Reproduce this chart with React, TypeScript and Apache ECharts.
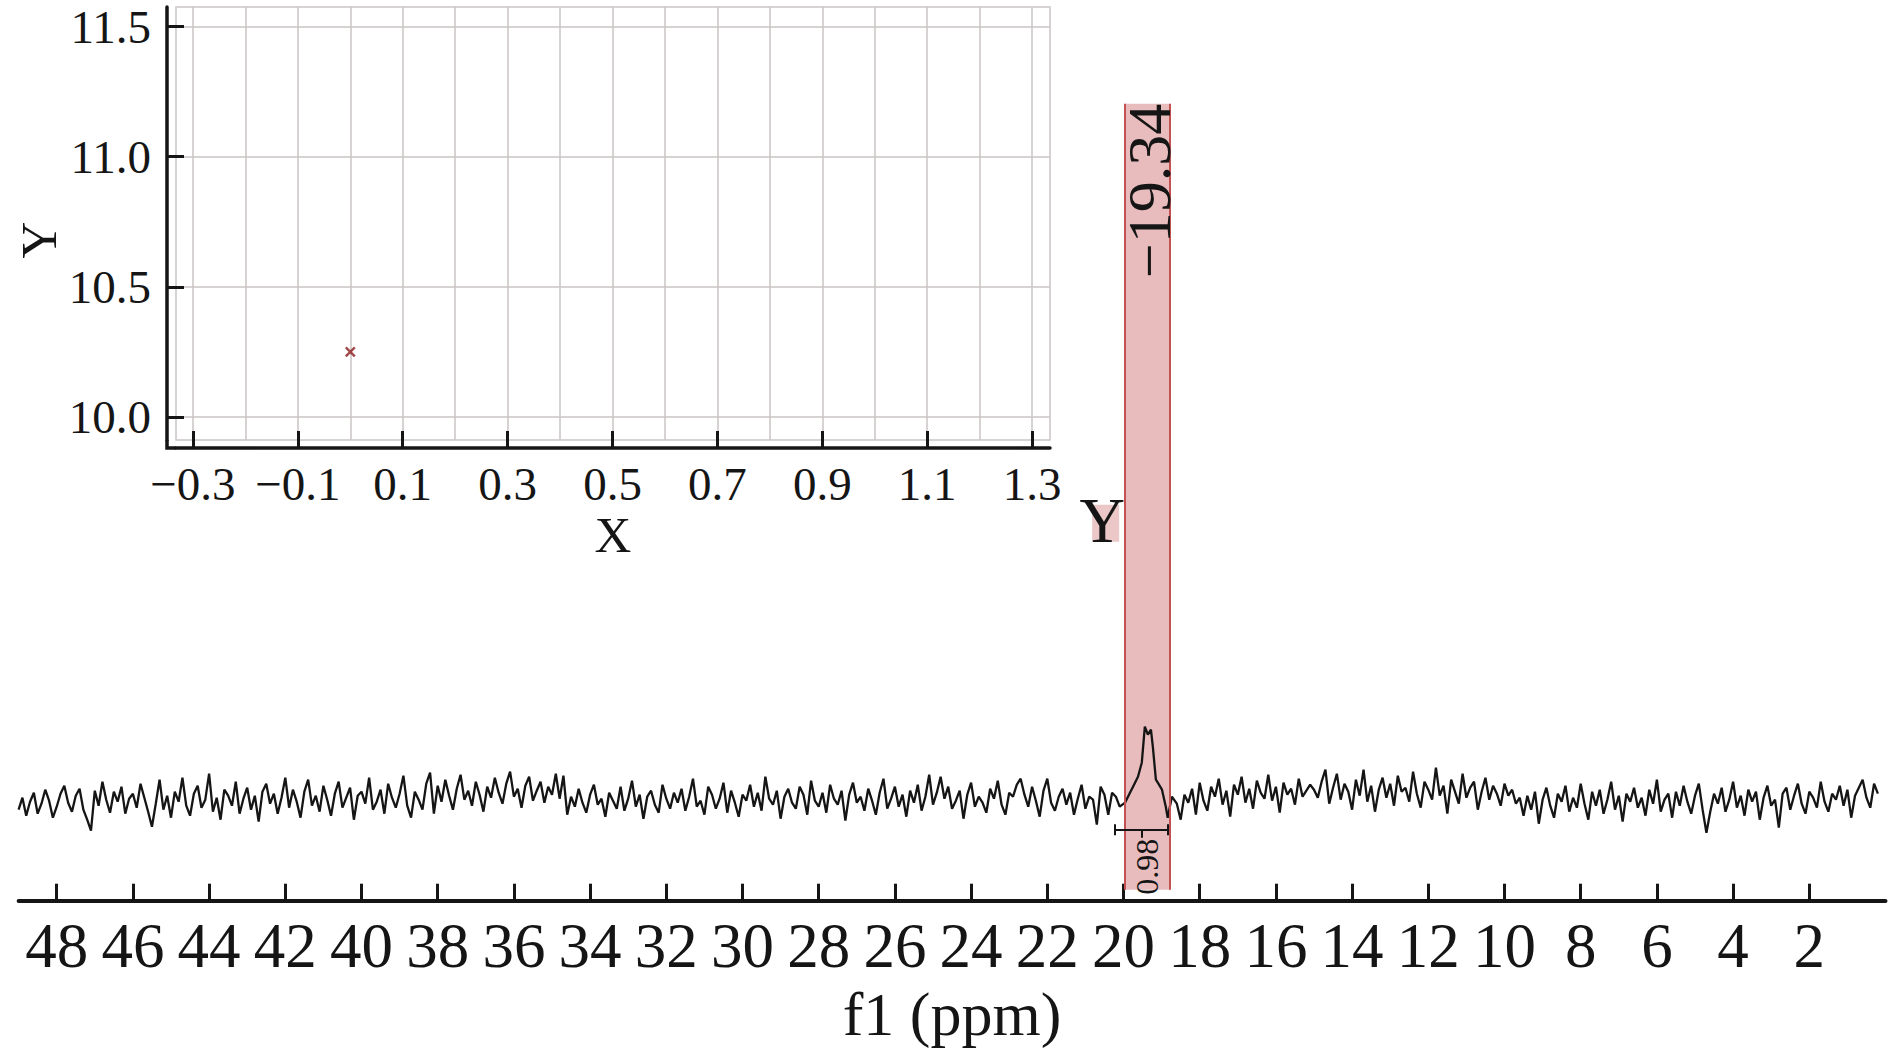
import React, { useEffect, useRef } from "react";
import * as echarts from "echarts";

const FONT = "'Liberation Serif', 'Times New Roman', Times, serif";
const INK = "#151515";
const GRIDGRAY = "#cbc5c5";

// ---------------- spectrum (intensity) ----------------
const specStep = 0.1;
const segAStart = 49.0;
const segA = [-9, 3, -15, -1, 8, -13, -3, 11, 0, -17, -6, 7, 15, -2, -11, 5, 12, -9, -19, -30, 10, -5, 19, 1, -12, 9, -1, 14, -13, 2];
const segBStart = 46.0;
const segB = [
  7, -7, 17, 3, -11, -26, -3, 21, -9, 5,
  -17, 9, -1, 23, -5, -15, 7, 15, -7, 1,
  27, -11, 3, -19, 11, 5, -5, 19, -13, 2,
  13, -9, 5, -21, 9, 17, -3, 7, -13, 3,
  23, -7, 11, -1, -17, 9, 21, -5, 5, -11,
  15, 1, -15, 7, 19, -7, 3, 13, -19, 5,
  9, -3, 23, -9, -1, 11, -13, 17, 3, -7,
  7, 25, -5, -17, 9, 1, -9, 17, 28, -13,
];
const segCStart = 38.0;
const segC = [15, -1, 21, 5, -9, 12, 26, 1, 10, -5, 19, 6, -11, 14, 3, 23, 8, -3, 17, 29, 4, 12, -7, 15, 24, 0, 10, 19, -2, 14, 6, 27, 2, 25];
const segDStart = 34.6;
const segD = [
  -14, 4, -6, 12, -2, -12, 6, 16, -4, 2,
  -16, 8, 0, -8, 14, -10, 2, 20, -6, 6,
  -18, 4, 10, -4, -12, 16, 2, -8, 8, -2,
  12, -10, 4, 22, -6, 0, -14, 14, 6, -8,
  2, 18, -12, 10, -2, -16, 6, 0, 16, -6,
  8, -10, 24, 2, -4, 10, -18, 4, 12, -2,
  -8, 14, 6, -14, 20, 0, -6, 8, -12, 16,
  2, -4, 10, -20, 6, 18, -2, 4, -10, 12,
  0, -14, 8, 22, -8, 2, 14, -6, 6, -16,
  10, -2, 16, -10, 4, 26, -4, 8, 24, 2,
  14, -8, 0, 10, -18, 6, 18, -6, 4, -2,
  -12, 12, 2, 20, -4, -14, 8, 4, 16, 22,
  6, -6, 14, 0, -16, 10, 22, -2, -10, 4,
  12, -4, 8, -14, 2, 16, -8, 4, 1, -24,
  14, 6, -14, 8, 4, -6,
];
const peakPpm = [19.96, 19.83, 19.75, 19.62, 19.52, 19.44, 19.36, 19.28, 19.23, 19.15, 19.1, 18.99, 18.89, 18.84, 18.73];
const peakVal = [-2, 8, 14, 24, 38, 74, 66, 71, 54, 21, 18, 11, -6, -17, 4];
const segFStart = 18.6;
const segF = [-3, -19, 6, -2, 12, -14, 18, 0, -10, 14, 4, 22, -4, 10, -16, 16, 6, 24, -2, 12, -8, 20, 8, 2, 26, 0, 14, -12, 18, 6, 12, -4, 22, 4, 10, 16];
const segGStart = 15.0;
const segG = [
  11, 3, 19, 31, -3, 13, 27, 1, 17, 9,
  -9, 21, 5, 31, -1, 15, -11, 11, 23, 3,
  17, -5, 25, 9, 13, -1, 29, 7, -7, 19,
  11, 1, 33, 5, 15, -13, 21, 9, -3, 27,
  3, 13, 19, -9, 9, 23, 1, 15, 7, -5,
  17, 5, 11, -3, 3,
];
const segHStart = 9.5;
const segH = [
  -15, 5, -9, 9, -23, 1, 13, -5, -17, 7,
  -1, 15, -11, 3, -7, 17, -3, -19, 9, -5,
  11, -13, 1, 19, -9, 5, -21, 7, -1, 13,
  -7, 3, -15, 11, -3, 21, -11, 1, 7, -17,
  9, -5, 15, -1, -13, 5, 17, -9, -32, -11,
  7, -3, 13, -11, 1, 19, -7, 5, -15, 11,
  -1, 9, -19, 3, 15, -5, 1, -27, 7, 13,
  -9, 5, 17, -3, -13, 9, 3, -7, 19, -1,
  -11, 7, 1, 15, -5, 11, -17, 5, 13, 21,
  3, -7, 17, 7,
];

// ---------------- axes / annotations ----------------
const mainTicks = [48, 46, 44, 42, 40, 38, 36, 34, 32, 30, 28, 26, 24, 22, 20, 18, 16, 14, 12, 10, 8, 6, 4, 2];
const insetGridX = [-0.3, -0.2, -0.1, 0, 0.1, 0.2, 0.3, 0.4, 0.5, 0.6, 0.7, 0.8, 0.9, 1.0, 1.1, 1.2, 1.3];
const insetTicksX = [-0.3, -0.1, 0.1, 0.3, 0.5, 0.7, 0.9, 1.1, 1.3];
const insetTicksY = [10.0, 10.5, 11.0, 11.5];
const insetPoints = [[0, 10.25]];

const peakLabel = "\u221219.34";
const peakLabelPpm = 19.34;
const integralLabel = "0.98";
const integralLabelPpm = 19.38;
const shadeRange = [19.96, 18.78];
const integralRange = [20.22, 18.83];
const integralMidPpm = 19.51;
const yTagPpm = 20.56;

// ---------------- layout ----------------
const W = 1890;
const H = 1052;
const MAIN = { left: 18.6, right: 4.5, top: 100.7, bottom: 151.3 };
const MAIN_Y = { min: -100, max: 700 };
const SHADE_Y = [-89, 697];
const PEAK_LABEL_Y = 697;
const BRACKET_Y = -29;
const BRACKET_END = 5.5;
const BRACKET_DROP = 8;
const INTEGRAL_LABEL_Y = -66;
const YTAG_Y = 280;
const INSET = { left: 176, top: 7, width: 874, height: 433 };
const INSET_X = { min: -0.3324, max: 1.3343 };
const INSET_Y = { min: 9.9116, max: 11.575 };
const INSET_XOFF = 8;
const INSET_YOFF = 9;

function seg(start: number, vals: number[]) {
  return vals.map((v, i) => [+(start - i * specStep).toFixed(2), v]);
}

const spectrum = [
  ...seg(segAStart, segA),
  ...seg(segBStart, segB),
  ...seg(segCStart, segC),
  ...seg(segDStart, segD),
  ...peakPpm.map((p, i) => [p, peakVal[i]]),
  ...seg(segFStart, segF),
  ...seg(segGStart, segG),
  ...seg(segHStart, segH),
];

const fmtMinus = (v: number) => v.toFixed(1).replace("-", "\u2212");

const sideStyle = { color: "#c25252", width: 2, type: "solid" };
const bracketStyle = { color: INK, width: 2, type: "solid" };

const option: any = {
  animation: false,
  backgroundColor: "#ffffff",
  textStyle: { fontFamily: FONT },
  grid: [
    { left: MAIN.left, right: MAIN.right, top: MAIN.top, bottom: MAIN.bottom, outerBoundsMode: "none" },
    {
      left: INSET.left, top: INSET.top, width: INSET.width, height: INSET.height,
      show: true, borderColor: GRIDGRAY, borderWidth: 1.5, backgroundColor: "rgba(0,0,0,0)", outerBoundsMode: "none",
    },
  ],
  xAxis: [
    {
      type: "value", gridIndex: 0, position: "bottom", min: 0, max: 49, inverse: true,
      axisLine: { show: true, onZero: false, lineStyle: { color: INK, width: 4 } },
      axisTick: { show: true, inside: true, length: 17, customValues: mainTicks, lineStyle: { color: INK, width: 3 } },
      axisLabel: { show: true, customValues: mainTicks, margin: 14, fontSize: 63, fontFamily: FONT, color: INK },
      splitLine: { show: false },
      name: "f1 (ppm)", nameLocation: "middle", nameGap: 81,
      nameTextStyle: { fontSize: 62, fontFamily: FONT, color: INK },
    },
    {
      type: "value", gridIndex: 1, position: "bottom", min: INSET_X.min, max: INSET_X.max,
      axisLine: { show: false, onZero: false }, axisTick: { show: false, customValues: insetGridX },
      axisLabel: { show: false },
      splitLine: { show: true, lineStyle: { color: GRIDGRAY, width: 1.5 } },
    },
    {
      type: "value", gridIndex: 1, position: "bottom", min: INSET_X.min, max: INSET_X.max, offset: INSET_XOFF,
      axisLine: { show: true, onZero: false, lineStyle: { color: INK, width: 3.5 } },
      axisTick: { show: true, inside: true, length: 17, customValues: insetTicksX, lineStyle: { color: INK, width: 3 } },
      axisLabel: { show: true, customValues: insetTicksX, formatter: fmtMinus, margin: 12, fontSize: 47, fontFamily: FONT, color: INK },
      splitLine: { show: false },
      name: "X", nameLocation: "middle", nameGap: 61,
      nameTextStyle: { fontSize: 51, fontFamily: FONT, color: INK },
    },
  ],
  yAxis: [
    { type: "value", gridIndex: 0, min: MAIN_Y.min, max: MAIN_Y.max, show: false, axisLine: { onZero: false } },
    {
      type: "value", gridIndex: 1, position: "left", min: INSET_Y.min, max: INSET_Y.max, offset: INSET_YOFF,
      axisLine: { show: true, onZero: false, lineStyle: { color: INK, width: 3.5 } },
      axisTick: { show: true, inside: true, length: 17, customValues: insetTicksY, lineStyle: { color: INK, width: 3 } },
      axisLabel: { show: true, customValues: insetTicksY, formatter: fmtMinus, margin: 16, fontSize: 47, fontFamily: FONT, color: INK },
      splitLine: { show: true, lineStyle: { color: GRIDGRAY, width: 1.5 } },
      name: "Y", nameLocation: "middle", nameGap: 102, nameRotate: 90,
      nameTextStyle: { fontSize: 51, fontFamily: FONT, color: INK, padding: [0, 33, 0, 0] },
    },
  ],
  series: [
    {
      type: "line", name: "spectrum", xAxisIndex: 0, yAxisIndex: 0,
      data: spectrum, symbol: "none", showSymbol: false, silent: true, z: 3,
      lineStyle: { color: INK, width: 2.3 },
      markArea: {
        silent: true,
        itemStyle: { color: "#e8bcbc" },
        data: [[{ coord: [shadeRange[0], SHADE_Y[0]] }, { coord: [shadeRange[1], SHADE_Y[1]] }]],
      },
      markLine: {
        silent: true, symbol: ["none", "none"], label: { show: false },
        lineStyle: { type: "solid" },
        data: [
          [{ coord: [shadeRange[0], SHADE_Y[0]], lineStyle: sideStyle }, { coord: [shadeRange[0], SHADE_Y[1]] }],
          [{ coord: [shadeRange[1], SHADE_Y[0]], lineStyle: sideStyle }, { coord: [shadeRange[1], SHADE_Y[1]] }],
          [{ coord: [integralRange[0], BRACKET_Y], lineStyle: bracketStyle }, { coord: [integralRange[1], BRACKET_Y] }],
          [{ coord: [integralRange[0], BRACKET_Y + BRACKET_END], lineStyle: bracketStyle }, { coord: [integralRange[0], BRACKET_Y - BRACKET_END] }],
          [{ coord: [integralRange[1], BRACKET_Y + BRACKET_END], lineStyle: bracketStyle }, { coord: [integralRange[1], BRACKET_Y - BRACKET_END] }],
          [{ coord: [integralMidPpm, BRACKET_Y], lineStyle: bracketStyle }, { coord: [integralMidPpm, BRACKET_Y - BRACKET_DROP] }],
        ],
      },
    },
    {
      type: "scatter", name: "point", xAxisIndex: 2, yAxisIndex: 1,
      data: insetPoints, symbol: "path://M0,0L10,10M10,0L0,10", symbolSize: 9, silent: true,
      itemStyle: { color: "rgba(0,0,0,0)", borderColor: "#8b1c1c", borderWidth: 2.4 },
    },
  ],
};

export default function App() {
  const ref = useRef<HTMLDivElement>(null);
  useEffect(() => {
    const el = ref.current;
    if (!el) return;
    const chart = echarts.init(el, null, { renderer: "svg" });
    chart.setOption(option);
    const px = (x: number, y: number) => chart.convertToPixel({ gridIndex: 0 }, [x, y]) as number[];
    const pl = px(peakLabelPpm, PEAK_LABEL_Y);
    const il = px(integralLabelPpm, INTEGRAL_LABEL_Y);
    const yt = px(yTagPpm, YTAG_Y);
    const axX = INSET.left - INSET_YOFF;
    const axY = INSET.top + INSET.height + INSET_XOFF;
    chart.setOption({
      graphic: [
        {
          type: "text", x: pl[0], y: pl[1], rotation: Math.PI / 2, z: 20, silent: true,
          style: { text: peakLabel, fontSize: 62, fontFamily: FONT, fill: INK, align: "right", verticalAlign: "middle" },
        },
        {
          type: "text", x: il[0], y: il[1], rotation: Math.PI / 2, z: 20, silent: true,
          style: { text: integralLabel, fontSize: 32, fontFamily: FONT, fill: INK, align: "center", verticalAlign: "middle" },
        },
        {
          type: "rect", z: 19, silent: true,
          shape: { x: yt[0] - 10, y: yt[1] - 16, width: 27, height: 37 },
          style: { fill: "rgba(228,180,180,0.75)" },
        },
        {
          type: "text", x: yt[0], y: yt[1], z: 20, silent: true,
          style: { text: "Y", fontSize: 63, fontFamily: FONT, fill: INK, align: "center", verticalAlign: "middle" },
        },
        {
          type: "polyline", z: 20, silent: true,
          shape: { points: [[axX, INSET.top + INSET.height], [axX, axY], [INSET.left, axY]] },
          style: { stroke: INK, lineWidth: 3.5, fill: "none" },
        },
      ],
    });
    return () => chart.dispose();
  }, []);
  return (
    <div
      ref={ref}
      style={{ position: "absolute", left: 0, top: 0, width: W, height: H, background: "#fff" }}
    />
  );
}
